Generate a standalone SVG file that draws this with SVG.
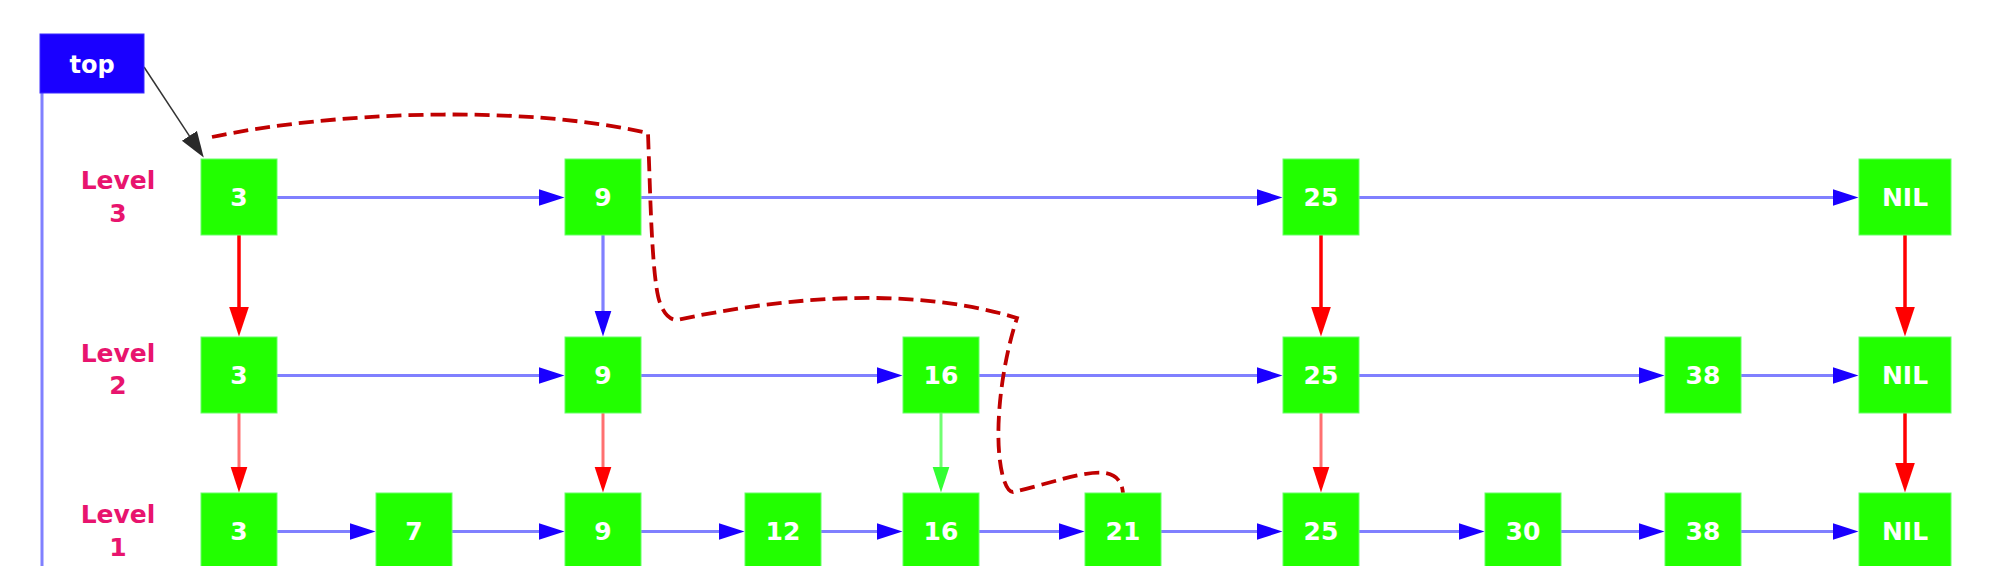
<svg xmlns="http://www.w3.org/2000/svg" width="2008" height="566" viewBox="0 0 2008 566">
<style>
.node rect{fill:#22ff00;stroke:#66ff66;stroke-width:1}
.node text{font-family:"DejaVu Sans",Verdana,sans-serif;font-size:25px;font-weight:bold;fill:#ffffff;text-anchor:middle}
.lvl{font-family:"DejaVu Sans",Verdana,sans-serif;font-size:25px;font-weight:bold;fill:#e8146e;text-anchor:middle}
.h{stroke:#8080ff;stroke-width:3.2;fill:none;marker-end:url(#hb)}
.vr{stroke:#ff0000;stroke-width:3.5;fill:none;marker-end:url(#hrb)}
.vl{stroke:#ff7070;stroke-width:3;fill:none;marker-end:url(#hrs)}
.vg{stroke:#70ff70;stroke-width:3;fill:none;marker-end:url(#hg)}
</style>
<defs>
<marker id="hb" markerUnits="userSpaceOnUse" markerWidth="26" markerHeight="18" viewBox="0 0 26 18" refX="0.5" refY="9" orient="auto"><path d="M0,0.5 L26,9 L0,17.5 z" fill="#1a00ff"/></marker>
<marker id="hrb" markerUnits="userSpaceOnUse" markerWidth="30" markerHeight="20" viewBox="0 0 30 20" refX="0.5" refY="10" orient="auto"><path d="M0,0 L30,10 L0,20 z" fill="#ff0000"/></marker>
<marker id="hrs" markerUnits="userSpaceOnUse" markerWidth="26" markerHeight="18" viewBox="0 0 26 18" refX="0.5" refY="9" orient="auto"><path d="M0,0.5 L26,9 L0,17.5 z" fill="#ff0000"/></marker>
<marker id="hg" markerUnits="userSpaceOnUse" markerWidth="26" markerHeight="18" viewBox="0 0 26 18" refX="0.5" refY="9" orient="auto"><path d="M0,0.5 L26,9 L0,17.5 z" fill="#33ff33"/></marker>
<marker id="hk" markerUnits="userSpaceOnUse" markerWidth="26" markerHeight="20" viewBox="0 0 26 20" refX="0.5" refY="10" orient="auto"><path d="M0,1 L26,10 L0,19 z" fill="#2a2a2a"/></marker>
</defs>

<g id="connectors">
  <line x1="42" y1="93" x2="42" y2="566" stroke="#8080ff" stroke-width="3"/>
  <line x1="144" y1="67" x2="189.7" y2="136.3" stroke="#333333" stroke-width="1.5" marker-end="url(#hk)"/>
  <!-- level 3 -->
  <line class="h" x1="277" y1="197.5" x2="539" y2="197.5"/>
  <line class="h" x1="641" y1="197.5" x2="1257" y2="197.5"/>
  <line class="h" x1="1359" y1="197.5" x2="1833" y2="197.5"/>
  <!-- level 2 -->
  <line class="h" x1="277" y1="375.5" x2="539" y2="375.5"/>
  <line class="h" x1="641" y1="375.5" x2="877" y2="375.5"/>
  <line class="h" x1="979" y1="375.5" x2="1257" y2="375.5"/>
  <line class="h" x1="1359" y1="375.5" x2="1639" y2="375.5"/>
  <line class="h" x1="1741" y1="375.5" x2="1833" y2="375.5"/>
  <!-- level 1 -->
  <line class="h" x1="277" y1="531.5" x2="350" y2="531.5"/>
  <line class="h" x1="452" y1="531.5" x2="539" y2="531.5"/>
  <line class="h" x1="641" y1="531.5" x2="719" y2="531.5"/>
  <line class="h" x1="821" y1="531.5" x2="877" y2="531.5"/>
  <line class="h" x1="979" y1="531.5" x2="1059" y2="531.5"/>
  <line class="h" x1="1161" y1="531.5" x2="1257" y2="531.5"/>
  <line class="h" x1="1359" y1="531.5" x2="1459" y2="531.5"/>
  <line class="h" x1="1561" y1="531.5" x2="1639" y2="531.5"/>
  <line class="h" x1="1741" y1="531.5" x2="1833" y2="531.5"/>
  <!-- vertical L3 to L2 -->
  <line class="vr" x1="239" y1="235" x2="239" y2="307"/>
  <line class="h" x1="603" y1="235" x2="603" y2="311"/>
  <line class="vr" x1="1321" y1="235" x2="1321" y2="307"/>
  <line class="vr" x1="1905" y1="235" x2="1905" y2="307"/>
  <!-- vertical L2 to L1 -->
  <line class="vl" x1="239" y1="413" x2="239" y2="467"/>
  <line class="vl" x1="603" y1="413" x2="603" y2="467"/>
  <line class="vg" x1="941" y1="413" x2="941" y2="467"/>
  <line class="vl" x1="1321" y1="413" x2="1321" y2="467"/>
  <line class="vr" x1="1905" y1="413" x2="1905" y2="463"/>
  <!-- search path -->
  <path d="M212,137 C330,112 520,104 648,133 L650,190 C652,250 655,290 660,303 C664,314 670,320 677,320 C760,302 900,282 1017,318 C1000,370 993,440 1003,477 C1006,487 1009,492 1013,492 C1045,485 1085,470 1105,473 C1117,475 1122,482 1123,493" fill="none" stroke="#c00000" stroke-width="3.8" stroke-dasharray="15,7"/>
</g>

<g id="top">
  <rect x="40" y="34" width="104" height="59" fill="#1a00ff" stroke="#3a2aff" stroke-width="1"/>
  <text x="92" y="73" font-family="DejaVu Sans,Verdana,sans-serif" font-size="24" font-weight="bold" fill="#ffffff" text-anchor="middle">top</text>
</g>

<g id="labels">
  <text class="lvl" x="118" y="189">Level</text>
  <text class="lvl" x="118" y="222">3</text>
  <text class="lvl" x="118" y="362">Level</text>
  <text class="lvl" x="118" y="394">2</text>
  <text class="lvl" x="118" y="523">Level</text>
  <text class="lvl" x="118" y="556">1</text>
</g>

<g id="n3_3" class="node"><rect x="201" y="159" width="76" height="76"/><text x="239" y="206">3</text></g>
<g id="n3_9" class="node"><rect x="565" y="159" width="76" height="76"/><text x="603" y="206">9</text></g>
<g id="n3_25" class="node"><rect x="1283" y="159" width="76" height="76"/><text x="1321" y="206">25</text></g>
<g id="n3_nil" class="node"><rect x="1859" y="159" width="92" height="76"/><text x="1905" y="206">NIL</text></g>

<g id="n2_3" class="node"><rect x="201" y="337" width="76" height="76"/><text x="239" y="384">3</text></g>
<g id="n2_9" class="node"><rect x="565" y="337" width="76" height="76"/><text x="603" y="384">9</text></g>
<g id="n2_16" class="node"><rect x="903" y="337" width="76" height="76"/><text x="941" y="384">16</text></g>
<g id="n2_25" class="node"><rect x="1283" y="337" width="76" height="76"/><text x="1321" y="384">25</text></g>
<g id="n2_38" class="node"><rect x="1665" y="337" width="76" height="76"/><text x="1703" y="384">38</text></g>
<g id="n2_nil" class="node"><rect x="1859" y="337" width="92" height="76"/><text x="1905" y="384">NIL</text></g>

<g id="n1_3" class="node"><rect x="201" y="493" width="76" height="76"/><text x="239" y="540">3</text></g>
<g id="n1_7" class="node"><rect x="376" y="493" width="76" height="76"/><text x="414" y="540">7</text></g>
<g id="n1_9" class="node"><rect x="565" y="493" width="76" height="76"/><text x="603" y="540">9</text></g>
<g id="n1_12" class="node"><rect x="745" y="493" width="76" height="76"/><text x="783" y="540">12</text></g>
<g id="n1_16" class="node"><rect x="903" y="493" width="76" height="76"/><text x="941" y="540">16</text></g>
<g id="n1_21" class="node"><rect x="1085" y="493" width="76" height="76"/><text x="1123" y="540">21</text></g>
<g id="n1_25" class="node"><rect x="1283" y="493" width="76" height="76"/><text x="1321" y="540">25</text></g>
<g id="n1_30" class="node"><rect x="1485" y="493" width="76" height="76"/><text x="1523" y="540">30</text></g>
<g id="n1_38" class="node"><rect x="1665" y="493" width="76" height="76"/><text x="1703" y="540">38</text></g>
<g id="n1_nil" class="node"><rect x="1859" y="493" width="92" height="76"/><text x="1905" y="540">NIL</text></g>
</svg>
